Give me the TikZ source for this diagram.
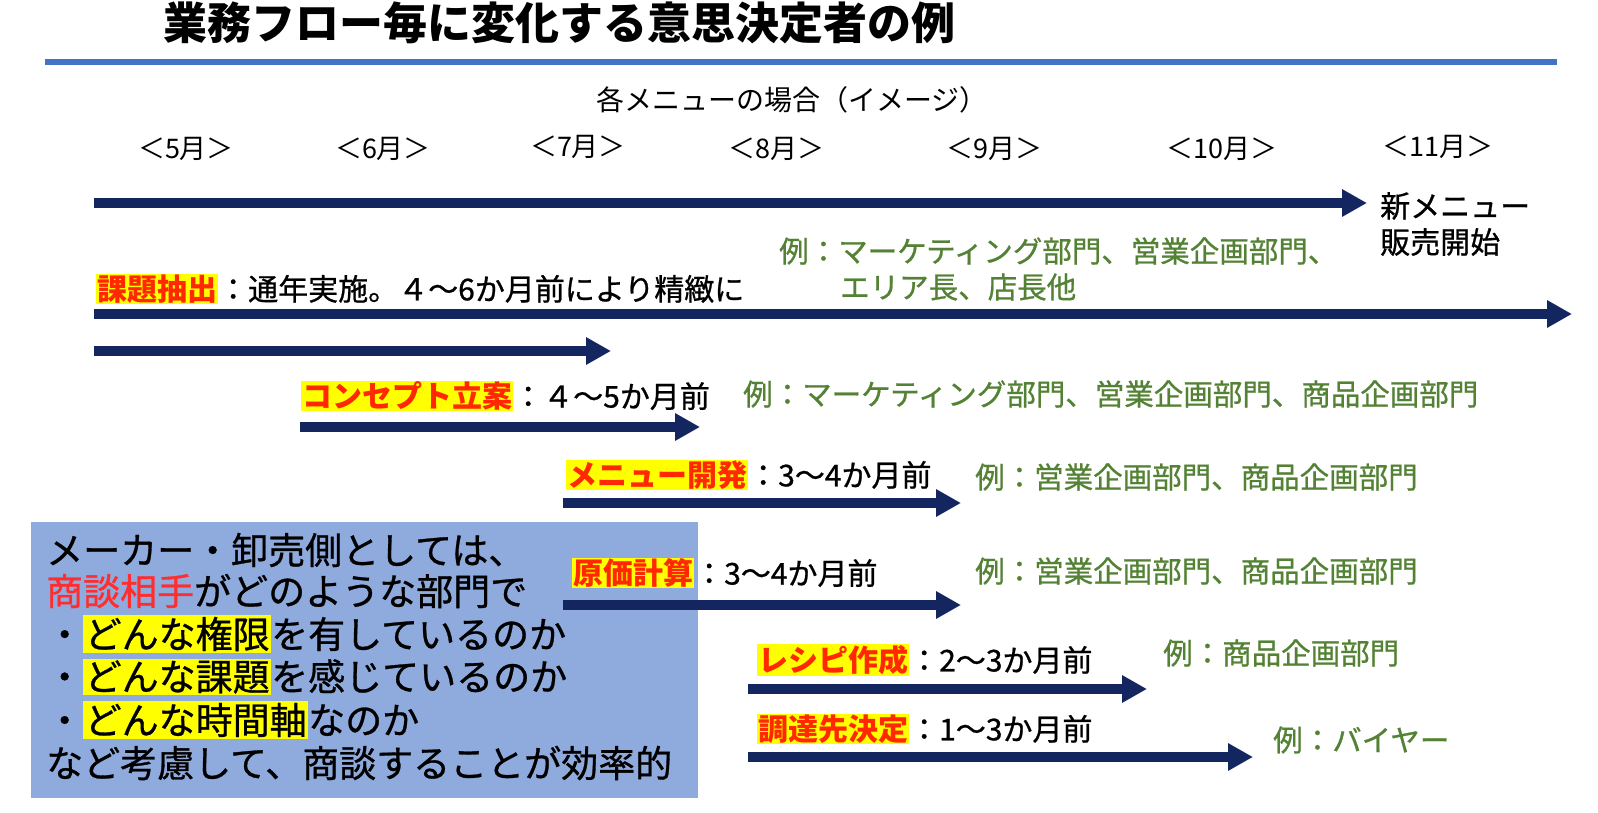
\documentclass[tikz,border=0pt]{standalone}
\usepackage{fontspec}
\setmainfont{Noto Sans CJK JP}
\newfontface\medfont{Noto Sans CJK JP}[FakeBold=0.8]
\usetikzlibrary{arrows.meta}
\definecolor{navy}{RGB}{20,38,96}
\definecolor{accentblue}{RGB}{68,114,196}
\definecolor{boxblue}{RGB}{143,170,220}
\definecolor{exgreen}{RGB}{84,130,53}
\definecolor{labred}{RGB}{255,40,0}
\definecolor{boxred}{RGB}{255,45,45}
\definecolor{hlyellow}{RGB}{255,255,0}
\newcommand{\hlab}[1]{{\setlength{\fboxsep}{1pt}\colorbox{hlyellow}{\normalfont\bfseries\textcolor{labred}{#1}}}}
\newcommand{\hlbox}[1]{{\setlength{\fboxsep}{1.5pt}\colorbox{hlyellow}{#1}}}
\begin{document}
\begin{tikzpicture}[x=1pt,y=-1pt,
  every node/.style={inner sep=0pt},
  title/.style={anchor=west,font=\fontsize{44}{50}\selectfont\bfseries},
  sub/.style={font=\fontsize{28}{32}\selectfont},
  month/.style={font=\fontsize{27}{31}\selectfont},
  rowtext/.style={anchor=west,font=\fontsize{30}{34}\selectfont\medfont},
  extext/.style={anchor=west,font=\fontsize{29.5}{34}\selectfont\medfont,text=exgreen},
  boxtxt/.style={anchor=west,font=\fontsize{37}{42}\selectfont\medfont},
  flow/.style={line width=10pt,draw=navy,-{Triangle[length=25pt,width=26pt]}}]
\useasboundingbox (0,0) rectangle (1598,813);
\fill[white] (0,0) rectangle (1598,813);
% title and rule
\node[title] (ttl) at (163,23) {業務フロー毎に変化する意思決定者の例};
\coordinate (rule1) at (45,62);
\coordinate (rule2) at (1557,62);
\draw[line width=6pt,accentblue] (rule1) -- (rule2);
\node[sub] (subt) at (792,100) {各メニューの場合（イメージ）};
% months
\node[month] (m5) at (186,149) {＜5月＞};
\node[month] (m6) at (383,149) {＜6月＞};
\node[month] (m7) at (578,147) {＜7月＞};
\node[month] (m8) at (776,149) {＜8月＞};
\node[month] (m9) at (994,149) {＜9月＞};
\node[month] (m10) at (1222,149) {＜10月＞};
\node[month] (m11) at (1438,147) {＜11月＞};
% main timeline
\coordinate (a1s) at (94,203);
\coordinate (a1e) at (1367,203);
\draw[flow] (a1s) -- (a1e);
\node[rowtext] (nm1) at (1380,206) {新メニュー};
\node[rowtext] (nm2) at (1380,242) {販売開始};
% row 1
\node[extext] (g1) at (779,251) {例：マーケティング部門、営業企画部門、};
\node[extext] (g1b) at (840,287) {エリア長、店長他};
\node[rowtext] (r1) at (96,289) {\hlab{課題抽出}：通年実施。４～6か月前により精緻に};
\coordinate (a2s) at (94,314);
\coordinate (a2e) at (1572,314);
\draw[flow] (a2s) -- (a2e);
\coordinate (a3s) at (94,351);
\coordinate (a3e) at (611,351);
\draw[flow] (a3s) -- (a3e);
% row 2
\node[rowtext] (r2) at (301,396) {\hlab{コンセプト立案}：４～5か月前};
\node[extext] (g2) at (743,394) {例：マーケティング部門、営業企画部門、商品企画部門};
\coordinate (a4s) at (300,427);
\coordinate (a4e) at (700,427);
\draw[flow] (a4s) -- (a4e);
% row 3
\node[rowtext] (r3) at (566,475) {\hlab{メニュー開発}：3～4か月前};
\node[extext] (g3) at (975,477) {例：営業企画部門、商品企画部門};
\coordinate (a5s) at (563,503);
\coordinate (a5e) at (961,503);
\draw[flow] (a5s) -- (a5e);
% box
\node[fill=boxblue,minimum width=667pt,minimum height=276pt,anchor=north west] (box) at (31,522) {};
\node[boxtxt] (b1) at (46,550) {メーカー・卸売側としては、};
\node[boxtxt] (b2) at (46,591) {\textcolor{boxred}{商談相手}がどのような部門で};
\node[boxtxt] (b3) at (46,634) {・\hlbox{どんな権限}を有しているのか};
\node[boxtxt] (b4) at (46,677) {・\hlbox{どんな課題}を感じているのか};
\node[boxtxt] (b5) at (46,720) {・\hlbox{どんな時間軸}なのか};
\node[boxtxt] (b6) at (46,763) {など考慮して、商談することが効率的};
% row 4
\node[rowtext] (r4) at (572,573) {\hlab{原価計算}：3～4か月前};
\node[extext] (g4) at (975,571) {例：営業企画部門、商品企画部門};
\coordinate (a6s) at (563,605);
\coordinate (a6e) at (961,605);
\draw[flow] (a6s) -- (a6e);
% row 5
\node[rowtext] (r5) at (757,660) {\hlab{レシピ作成}：2～3か月前};
\node[extext] (g5) at (1163,653) {例：商品企画部門};
\coordinate (a7s) at (748,689);
\coordinate (a7e) at (1147,689);
\draw[flow] (a7s) -- (a7e);
% row 6
\node[rowtext] (r6) at (757,729) {\hlab{調達先決定}：1～3か月前};
\node[extext] (g6) at (1273,740) {例：バイヤー};
\coordinate (a8s) at (748,757);
\coordinate (a8e) at (1253,757);
\draw[flow] (a8s) -- (a8e);
\end{tikzpicture}
\end{document}
